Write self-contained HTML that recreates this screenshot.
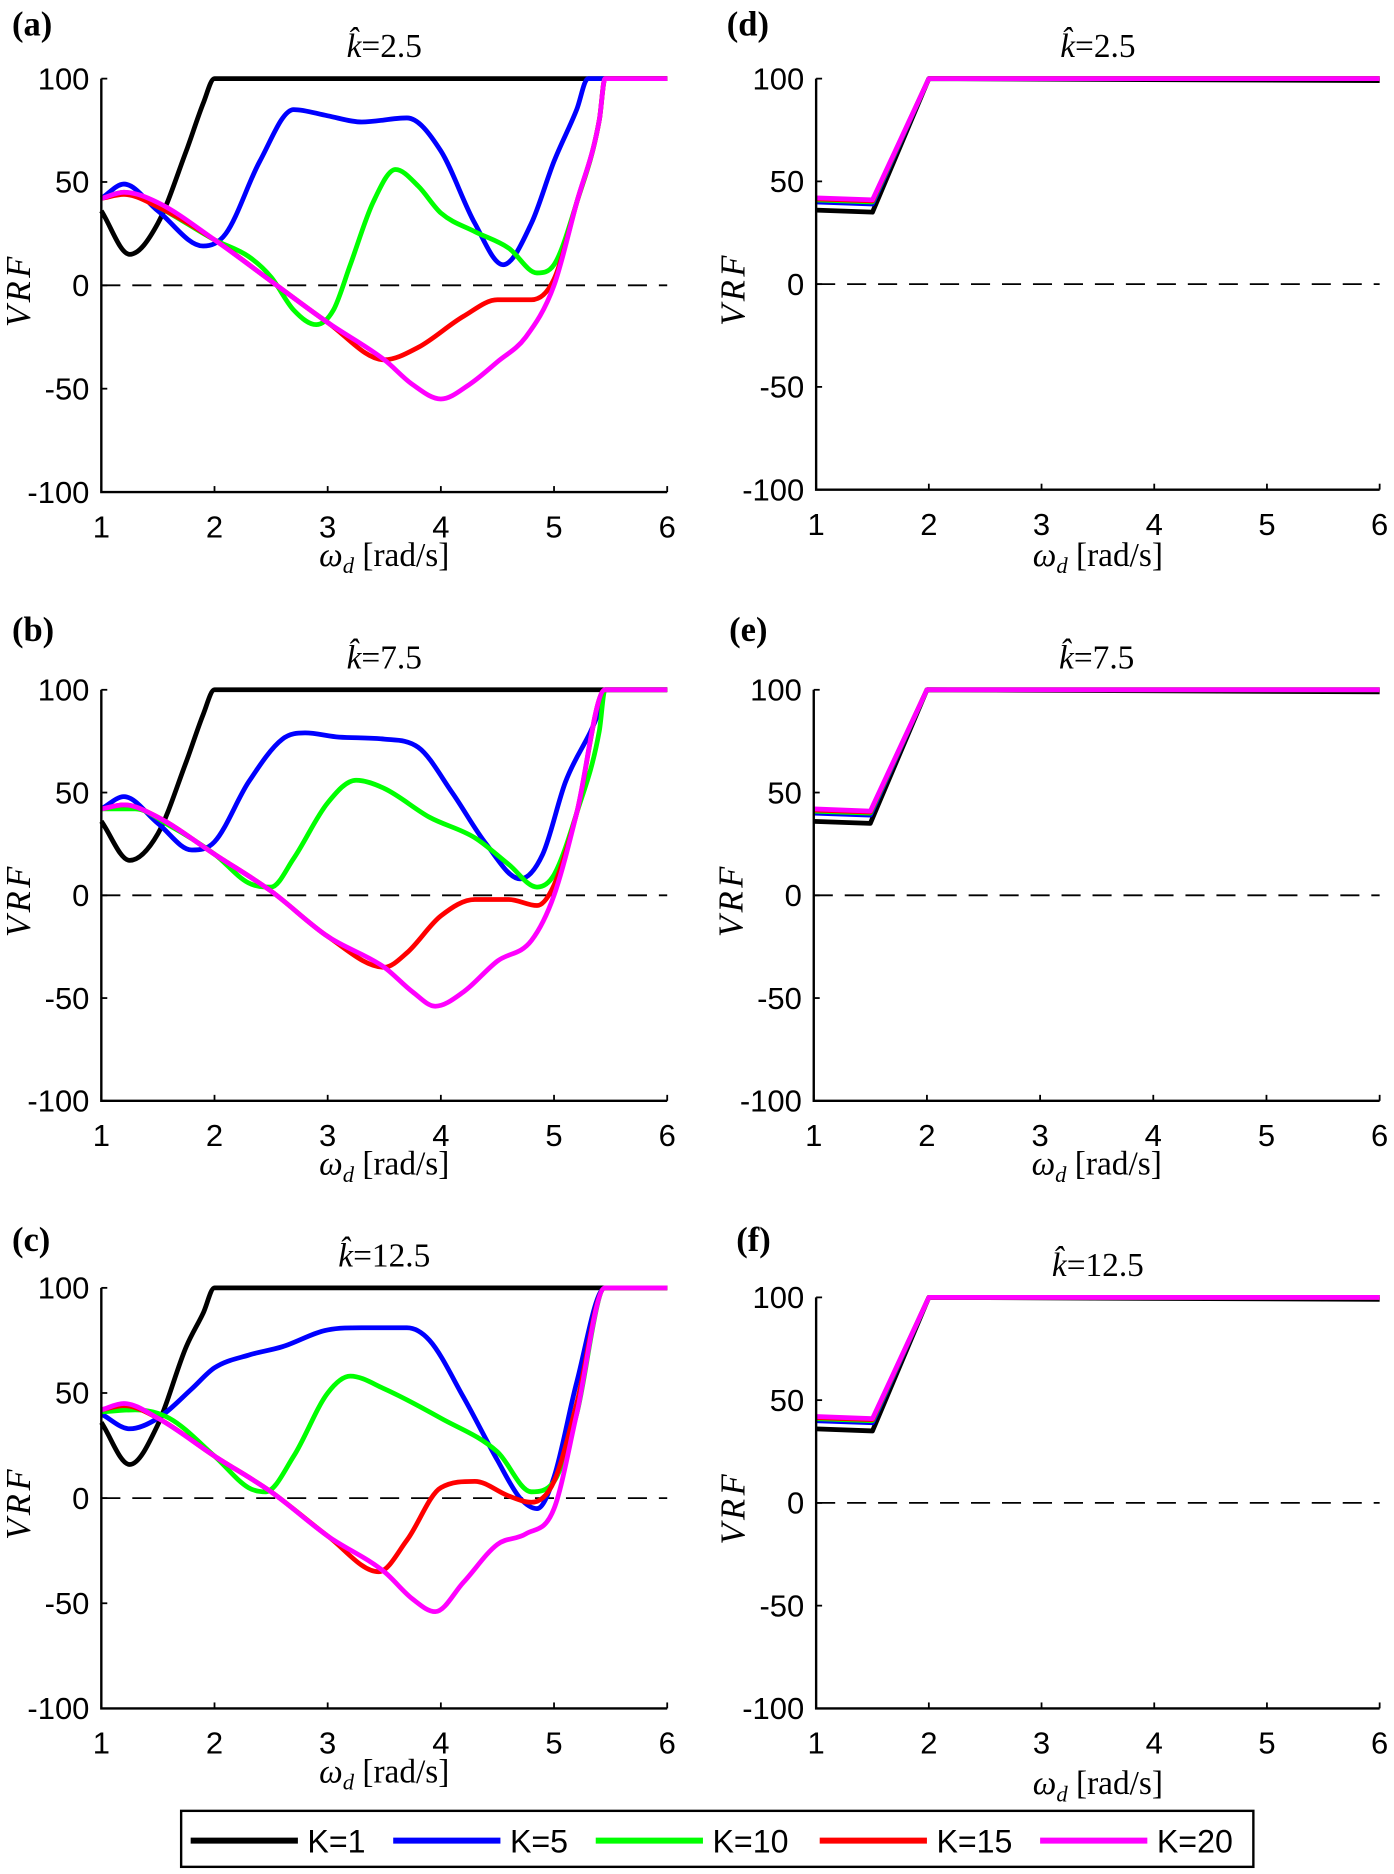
<!DOCTYPE html>
<html><head><meta charset="utf-8"><style>
html,body{margin:0;padding:0;background:#fff;}
svg{display:block;}
</style></head><body>
<svg id="fig" width="1394" height="1874" viewBox="0 0 1170 1573" xmlns="http://www.w3.org/2000/svg"></svg>
<script>
const NS='http://www.w3.org/2000/svg';
const svg=document.getElementById('fig');
const xTicks=[1,2,3,4,5,6];
const yTicks=[100,50,0,-50,-100];
const yTickLabels=['100','50','0','-50','-100'];
const seriesNames=['K=1','K=5','K=10','K=15','K=20'];
const seriesColors=['#000000','#0000ff','#00ff00','#ff0000','#ff00ff'];

// panel a (k=2.5)
const aK1x=[1,1.25,1.5,1.75,1.9,2,6];
const aK1y=[36,15,30,65,88,100,100];
const aK5x=[1,1.2,1.5,1.9,2.1,2.4,2.7,3.0,3.3,3.7,4.0,4.3,4.55,4.8,5.0,5.2,5.3,6];
const aK5y=[42,49,36,19,25,60,85,82,79,81,65,30,10,30,60,85,100,100];
const aK10x=[1,1.2,1.5,2.0,2.3,2.5,2.7,2.9,3.05,3.2,3.4,3.6,3.8,4.0,4.3,4.6,4.85,5.0,5.2,5.4,5.45,6];
const aK10y=[42,45,38,22,14,4,-12,-19,-12,10,40,56,48,35,26,18,6,10,40,80,100,100];
const aK15x=[1,1.2,1.5,2.0,2.5,3.0,3.5,3.8,4.2,4.5,4.8,5.0,5.2,5.4,5.45,6];
const aK15y=[42,44,38,22,2,-18,-36,-30,-15,-7,-7,3,40,80,100,100];
const aK20x=[1,1.2,1.5,2.0,2.5,3.0,3.5,3.75,4.0,4.25,4.5,4.75,5.0,5.2,5.4,5.45,6];
const aK20y=[42,45,40,22,2,-18,-36,-48,-55,-48,-37,-25,0,40,80,100,100];

// panel b (k=7.5)
const bK1x=[1,1.25,1.5,1.75,1.9,2,6];
const bK1y=[36,17,30,65,88,100,100];
const bK5x=[1,1.2,1.5,1.8,2.0,2.3,2.6,2.8,3.1,3.5,3.8,4.1,4.4,4.7,4.9,5.1,5.4,5.45,6];
const bK5y=[42,48,35,22,26,55,76,79,77,76,72,50,25,8,20,55,90,100,100];
const bK10x=[1,1.3,1.6,2.0,2.3,2.5,2.7,3.0,3.25,3.5,3.9,4.3,4.6,4.85,5.0,5.2,5.4,5.45,6];
const bK10y=[42,42,34,20,6,4,18,45,56,52,38,28,15,4,10,40,80,100,100];
const bK15x=[1,1.2,1.5,2.0,2.5,3.0,3.5,3.7,4.0,4.3,4.6,4.85,5.0,5.2,5.45,6];
const bK15y=[42,44,38,20,2,-20,-35,-28,-10,-2,-2,-5,5,40,100,100];
const bK20x=[1,1.2,1.5,2.0,2.5,3.0,3.5,3.75,3.95,4.2,4.5,4.8,5.0,5.2,5.45,6];
const bK20y=[42,44,38,20,2,-20,-35,-47,-54,-47,-32,-22,0,40,100,100];

// panel c (k=12.5)
const cK1x=[1,1.25,1.5,1.75,1.9,2,6];
const cK1y=[36,16,35,72,88,100,100];
const cK5x=[1,1.25,1.5,1.8,2.0,2.3,2.6,3.0,3.3,3.7,3.9,4.2,4.5,4.7,4.85,5.0,5.2,5.45,6];
const cK5y=[40,33,38,52,62,68,72,80,81,81,75,48,18,0,-5,10,55,100,100];
const cK10x=[1,1.3,1.6,2.0,2.3,2.45,2.7,3.0,3.2,3.5,4.0,4.5,4.8,5.0,5.2,5.45,6];
const cK10y=[41,42,38,20,5,3,20,50,58,52,38,22,3,8,40,100,100];
const cK15x=[1,1.2,1.5,2.0,2.5,3.0,3.45,3.7,4.0,4.3,4.6,4.8,5.0,5.2,5.45,6];
const cK15y=[42,44,38,20,3,-18,-35,-20,5,8,1,-2,8,45,100,100];
const cK20x=[1,1.2,1.5,2.0,2.5,3.0,3.5,3.75,3.95,4.2,4.5,4.75,5.0,5.2,5.45,6];
const cK20y=[42,45,38,20,3,-18,-35,-48,-54,-40,-22,-17,-5,40,100,100];

// right panels (d,e,f)
const rX=[1,1.5,2,6];
const rK1y=[36,35,100,99];
const rK5y=[40,39,100,100];
const rK10y=[41,40,100,100];
const rK15y=[41.5,40.5,100,100];
const rK20y=[42,41,100,100];

function el(tag,attrs,parent){const e=document.createElementNS(NS,tag);for(const k in attrs)e.setAttribute(k,attrs[k]);(parent||svg).appendChild(e);return e;}

// monotone cubic (Fritsch-Carlson) in data space, then mapped
function monoPath(xa,ya,xs,ys){
  const n=xa.length;const d=[],m=[];
  for(let i=0;i<n-1;i++)d.push((ya[i+1]-ya[i])/(xa[i+1]-xa[i]));
  m[0]=d[0];m[n-1]=d[n-2];
  for(let i=1;i<n-1;i++){m[i]=(d[i-1]*d[i]<=0)?0:(d[i-1]+d[i])/2;}
  for(let i=0;i<n-1;i++){
    if(d[i]===0){m[i]=0;m[i+1]=0;continue;}
    const a=m[i]/d[i],b=m[i+1]/d[i],s=a*a+b*b;
    if(s>9){const t=3/Math.sqrt(s);m[i]=t*a*d[i];m[i+1]=t*b*d[i];}
  }
  let p='M'+xs(xa[0]).toFixed(1)+','+ys(ya[0]).toFixed(1);
  for(let i=0;i<n-1;i++){
    const h=(xa[i+1]-xa[i])/3;
    p+='C'+xs(xa[i]+h).toFixed(1)+','+ys(ya[i]+m[i]*h).toFixed(1)+' '+xs(xa[i+1]-h).toFixed(1)+','+ys(ya[i+1]-m[i+1]*h).toFixed(1)+' '+xs(xa[i+1]).toFixed(1)+','+ys(ya[i+1]).toFixed(1);
  }
  return p;
}
function linPath(xa,ya,xs,ys){return 'M'+xa.map((v,i)=>xs(v).toFixed(1)+','+ys(ya[i]).toFixed(1)).join('L');}

function panel(o){
  const g=el('g',{});
  
  
  const xs=v=>o.x0+(v-1)*(o.x1-o.x0)/5;
  const ys=v=>o.yb+(v+100)*(o.yt-o.yb)/200;
  const lab=el('text',{x:o.lx,y:o.ly,'font-family':'Liberation Serif, serif','font-weight':'bold','font-size':29},g);
  lab.textContent='('+o.id+')';
  
  
  const t=el('text',{x:(o.x0+o.x1)/2,y:o.ty,'text-anchor':'middle','font-family':'Liberation Serif, serif','font-size':28},g);
  t.innerHTML='<tspan font-style="italic">k̂</tspan>=2'.replace('2',o.k);
  
  
  const z=el('line',{x1:o.x0,x2:o.x1,y1:ys(0),y2:ys(0),stroke:'#000','stroke-width':1.5,'stroke-dasharray':'16,10'},g);
  
  
  o.series.forEach((s,i)=>{
    const d=o.smooth?monoPath(s.x,s.y,xs,ys):linPath(s.x,s.y,xs,ys);
    const p=el('path',{d:d,fill:'none',stroke:seriesColors[i],'stroke-width':4,'stroke-linejoin':'round'},g);
    
    
  });
  const ax=el('path',{d:'M'+o.x0+','+o.yt+'V'+o.yb+'H'+o.x1,fill:'none',stroke:'#000','stroke-width':2},g);
  
  
  xTicks.forEach(v=>{
    el('line',{x1:xs(v),x2:xs(v),y1:o.yb,y2:o.yb-5,stroke:'#000','stroke-width':1.5},g);
    const tx=el('text',{x:xs(v),y:o.yb+38,'text-anchor':'middle','font-family':'Liberation Sans, sans-serif','font-size':26},g);
    tx.textContent=v;
    
    
  });
  yTicks.forEach((v,i)=>{
    el('line',{x1:o.x0,x2:o.x0+5,y1:ys(v),y2:ys(v),stroke:'#000','stroke-width':1.5},g);
    const ty=el('text',{x:o.x0-10,y:ys(v)+9,'text-anchor':'end','font-family':'Liberation Sans, sans-serif','font-size':26},g);
    ty.textContent=yTickLabels[i];
    
    
  });
  const xl=el('text',{x:(o.x0+o.x1)/2,y:o.yb+o.xly,'text-anchor':'middle','font-family':'Liberation Serif, serif','font-size':28},g);
  xl.innerHTML='<tspan font-style="italic">ω</tspan><tspan font-style="italic" font-size="19" dy="6">d</tspan><tspan dy="-6"> [rad/s]</tspan>';
  
  
  const yl=el('text',{x:0,y:0,'text-anchor':'middle','font-family':'Liberation Serif, serif','font-style':'italic','font-size':29,'letter-spacing':'3',transform:'translate('+(o.x0-60)+','+((o.yt+o.yb)/2+4)+') rotate(-90)'},g);
  yl.textContent='VRF';
  
  
}

const L=(xa,ya)=>({x:xa,y:ya});
panel({id:'a',k:'2.5',x0:85,x1:560,yt:66,yb:413,lx:10,ly:30,ty:48,xly:62,smooth:true,series:[L(aK1x,aK1y),L(aK5x,aK5y),L(aK10x,aK10y),L(aK15x,aK15y),L(aK20x,aK20y)]});
panel({id:'b',k:'7.5',x0:85,x1:560,yt:579,yb:924,lx:10,ly:538,ty:561,xly:62,smooth:true,series:[L(bK1x,bK1y),L(bK5x,bK5y),L(bK10x,bK10y),L(bK15x,bK15y),L(bK20x,bK20y)]});
panel({id:'c',k:'12.5',x0:85,x1:560,yt:1081,yb:1434,lx:10,ly:1050,ty:1063,xly:62,smooth:true,series:[L(cK1x,cK1y),L(cK5x,cK5y),L(cK10x,cK10y),L(cK15x,cK15y),L(cK20x,cK20y)]});
panel({id:'d',k:'2.5',x0:685,x1:1158,yt:66,yb:411,lx:610,ly:30,ty:48,xly:64,smooth:false,series:[L(rX,rK1y),L(rX,rK5y),L(rX,rK10y),L(rX,rK15y),L(rX,rK20y)]});
panel({id:'e',k:'7.5',x0:683,x1:1158,yt:579,yb:924,lx:612,ly:538,ty:561,xly:62,smooth:false,series:[L(rX,rK1y),L(rX,rK5y),L(rX,rK10y),L(rX,rK15y),L(rX,rK20y)]});
panel({id:'f',k:'12.5',x0:685,x1:1158,yt:1089,yb:1434,lx:618,ly:1050,ty:1071,xly:72,smooth:false,series:[L(rX,rK1y),L(rX,rK5y),L(rX,rK10y),L(rX,rK15y),L(rX,rK20y)]});

const lg=el('g',{});


el('rect',{x:152,y:1520,width:900,height:47,fill:'#fff',stroke:'#000','stroke-width':2},lg);
const legLineX=[160,330,500,688,873];
seriesNames.forEach((n,i)=>{
  const e=el('g',{},lg);
  
  
  el('line',{x1:legLineX[i],x2:legLineX[i]+90,y1:1545,y2:1545,stroke:seriesColors[i],'stroke-width':5},e);
  const t=el('text',{x:legLineX[i]+98,y:1555,'font-family':'Liberation Sans, sans-serif','font-size':27},e);
  t.textContent=n;
});
</script>
</body></html>
